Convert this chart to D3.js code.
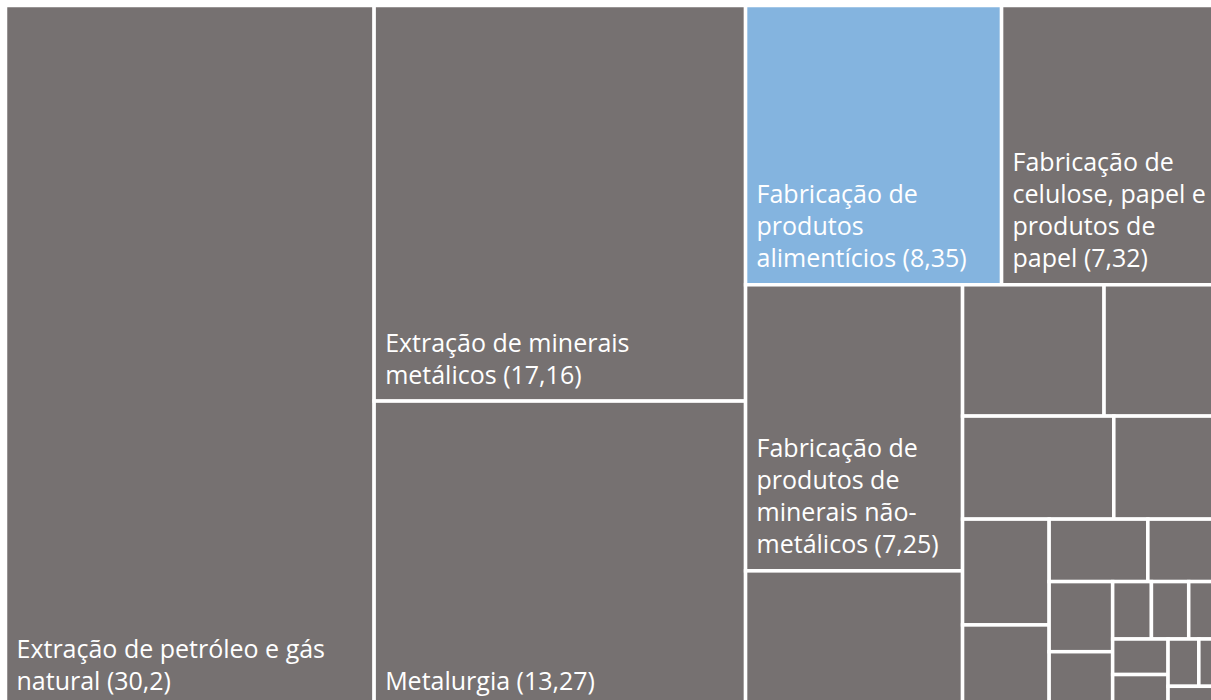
<!DOCTYPE html>
<html>
<head>
<meta charset="utf-8">
<script src="https://cdn.jsdelivr.net/npm/d3@7"></script>
<style>
  body { margin: 0; background: #fff; }
  svg { display: block; }
  .label { font-family: "Open Sans", sans-serif; font-size: 25px; fill: #fff; }
</style>
</head>
<body>
<div id="chart"></div>
<script>
const width = 1211;
const height = 700;

// the treemap box runs a little past the visible window, like the reference
const box = { x0: 5.5, y0: 5.5, x1: 1226, y1: 707 };

// labelled sectors (line breaks as shown), the rest are unlabelled
const sectors = [
  "Extração de petróleo e gás\nnatural",
  "Extração de minerais\nmetálicos",
  "Metalurgia",
  "Fabricação de\nprodutos\nalimentícios",
  "Fabricação de\ncelulose, papel e\nprodutos de\npapel",
  "Fabricação de\nprodutos de\nminerais não-\nmetálicos"
];
const values = [
  30.2, 17.16, 13.27, 8.35, 7.32, 7.25,
  3.45, 2.17, 1.87, 1.82, 1.35, 1.07, 0.83, 0.72, 0.57, 0.52, 0.41,
  0.26, 0.25, 0.25, 0.23, 0.21, 0.17, 0.15, 0.14
];
const highlighted = 3;

const gray = "#767171";
const blue = "#84b4df";

const data = {
  name: "root",
  children: values.map((v, i) => ({ name: sectors[i] || null, value: v, index: i }))
};

const root = d3
  .hierarchy(data)
  .sum((d) => d.value || 0)
  .sort((a, b) => b.value - a.value);

d3
  .treemap()
  .tile(d3.treemapSquarify.ratio(1.02))
  .size([box.x1 - box.x0, box.y1 - box.y0])(root);

const svg = d3
  .select("#chart")
  .append("svg")
  .attr("width", width)
  .attr("height", height);

const cells = svg
  .append("g")
  .attr("transform", `translate(${box.x0},${box.y0})`)
  .selectAll("g")
  .data(root.leaves())
  .join("g");

cells
  .append("rect")
  .attr("x", (d) => d.x0)
  .attr("y", (d) => d.y0)
  .attr("width", (d) => d.x1 - d.x0)
  .attr("height", (d) => d.y1 - d.y0)
  .attr("fill", (d) => (d.data.index === highlighted ? blue : gray))
  .attr("stroke", "#fff")
  .attr("stroke-width", 3.5);

const fmt = (v) => String(v).replace(".", ",");
const lineHeight = 32;

// labels sit in the bottom-left corner of each cell
cells
  .filter((d) => d.data.name)
  .append("text")
  .attr("class", "label")
  .each(function (d) {
    const lines = d.data.name.split("\n");
    lines[lines.length - 1] += " (" + fmt(d.data.value) + ")";
    const t = d3.select(this);
    lines.forEach((line, i) => {
      t.append("tspan")
        .attr("x", d.x0 + 11)
        .attr("y", d.y1 - 17.5 - (lines.length - 1 - i) * lineHeight)
        .text(line);
    });
  });
</script>
</body>
</html>
